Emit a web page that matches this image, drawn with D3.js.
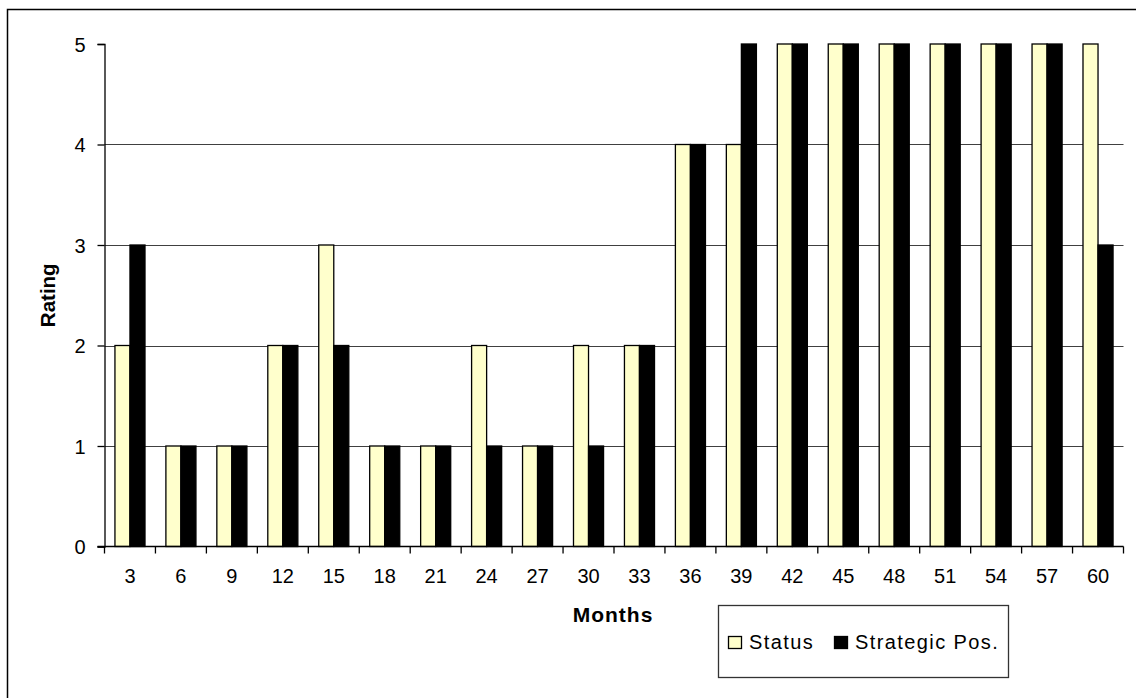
<!DOCTYPE html>
<html>
<head>
<meta charset="utf-8">
<script src="https://cdn.jsdelivr.net/npm/d3@7/dist/d3.min.js"></script>
<style>
  html, body { margin: 0; padding: 0; background: #fff; }
  svg { display: block; font-family: Arial, "Liberation Sans", sans-serif; }
</style>
</head>
<body>
<svg id="chart" width="1136" height="698"></svg>
<script>
// Ratings per month for the two series
const months = ["3","6","9","12","15","18","21","24","27","30","33","36","39","42","45","48","51","54","57","60"];
const statusValues = [2,1,1,2,3,1,1,2,1,2,2,4,4,5,5,5,5,5,5,5];
const strategicValues = [3,1,1,2,2,1,1,1,1,1,2,4,5,5,5,5,5,5,5,3];
const seriesNames = ["Status", "Strategic Pos."];
const seriesColors = ["#FFFFCC", "#000000"];
const yTicks = [0,1,2,3,4,5];

const svg = d3.select("#chart");

// outer chart frame
svg.append("rect")
  .attr("x", 7.5).attr("y", 9.5)
  .attr("width", 1140).attr("height", 700)
  .attr("fill", "#fff").attr("stroke", "#000").attr("stroke-width", 1.5);

const plot = { left: 104.5, right: 1123.5, top: 44, bottom: 546.5 };

const x = d3.scaleBand()
  .domain(months)
  .range([plot.left, plot.right])
  .paddingInner(0.41)
  .paddingOuter(0.205);

const xs = d3.scaleBand()
  .domain(seriesNames)
  .range([0, x.bandwidth()]);

const y = d3.scaleLinear()
  .domain([0, 5])
  .range([plot.bottom, plot.top]);

// horizontal gridlines
svg.append("g")
  .selectAll("line")
  .data(yTicks.filter(v => v > 0 && v < 5))
  .join("line")
  .attr("x1", plot.left).attr("x2", plot.right)
  .attr("y1", d => Math.round(y(d)) + 0.5).attr("y2", d => Math.round(y(d)) + 0.5)
  .attr("stroke", "#404040").attr("stroke-width", 1);

// bars
const rows = months.map((m, i) => ({ month: m, values: [statusValues[i], strategicValues[i]] }));
const groups = svg.append("g")
  .selectAll("g")
  .data(rows)
  .join("g")
  .attr("transform", d => `translate(${x(d.month)},0)`);

groups.selectAll("rect")
  .data(d => d.values.map((v, k) => ({ name: seriesNames[k], value: v, color: seriesColors[k] })))
  .join("rect")
  .attr("x", d => xs(d.name))
  .attr("y", d => y(d.value))
  .attr("width", xs.bandwidth())
  .attr("height", d => y(0) - y(d.value))
  .attr("fill", d => d.color)
  .attr("stroke", "#000")
  .attr("stroke-width", 1.3);

// y axis
const yAxis = d3.axisLeft(y)
  .tickValues(yTicks)
  .tickFormat(d3.format("d"))
  .tickSize(7)
  .tickPadding(12);
const gy = svg.append("g")
  .attr("transform", `translate(${plot.left},0)`)
  .call(yAxis);
gy.select(".domain").attr("stroke", "#000").attr("stroke-width", 1.3);
gy.selectAll(".tick line").attr("stroke", "#000").attr("stroke-width", 1.3);
gy.selectAll(".tick text")
  .attr("font-size", 20).attr("font-family", "Arial, 'Liberation Sans', sans-serif")
  .attr("fill", "#000").attr("dy", "0.35em");

// x axis: labels centred under each month, ticks on the category boundaries
const xAxis = d3.axisBottom(x).tickSize(0).tickPadding(22);
const gx = svg.append("g")
  .attr("transform", `translate(0,${plot.bottom})`)
  .call(xAxis);
gx.select(".domain").remove();
gx.selectAll(".tick text")
  .attr("font-size", 20).attr("font-family", "Arial, 'Liberation Sans', sans-serif")
  .attr("fill", "#000");

const half = (x.step() - x.bandwidth()) / 2;
const boundaries = months.map(m => x(m) - half).concat([x(months[months.length - 1]) + x.bandwidth() + half]);
svg.append("line")
  .attr("x1", plot.left - 7).attr("x2", plot.right)
  .attr("y1", plot.bottom).attr("y2", plot.bottom)
  .attr("stroke", "#000").attr("stroke-width", 1.3);
svg.append("g")
  .selectAll("line")
  .data(boundaries)
  .join("line")
  .attr("x1", d => d).attr("x2", d => d)
  .attr("y1", plot.bottom).attr("y2", plot.bottom + 7)
  .attr("stroke", "#000").attr("stroke-width", 1.3);

// axis titles
svg.append("text")
  .attr("x", 613).attr("y", 622)
  .attr("text-anchor", "middle")
  .attr("font-size", 21).attr("font-weight", "bold")
  .attr("letter-spacing", 1)
  .text("Months");

svg.append("text")
  .attr("transform", `translate(55,${(plot.top + plot.bottom) / 2}) rotate(-90)`)
  .attr("text-anchor", "middle")
  .attr("font-size", 20.5).attr("font-weight", "bold")
  .text("Rating");

// legend
const legend = svg.append("g");
legend.append("rect")
  .attr("x", 718.5).attr("y", 605.5)
  .attr("width", 290).attr("height", 72)
  .attr("fill", "#fff").attr("stroke", "#333").attr("stroke-width", 1.3);

const legendX = [728, 834];
const legendItems = legend.selectAll("g.item")
  .data(seriesNames.map((n, k) => ({ name: n, color: seriesColors[k], x: legendX[k] })))
  .join("g")
  .attr("class", "item")
  .attr("transform", d => `translate(${d.x},0)`);
legendItems.append("rect")
  .attr("x", 0.5).attr("y", 636.5)
  .attr("width", 13).attr("height", 12)
  .attr("fill", d => d.color).attr("stroke", "#000").attr("stroke-width", 1.3);
legendItems.append("text")
  .attr("x", 21).attr("y", 649)
  .attr("font-size", 20).attr("letter-spacing", 1.4)
  .text(d => d.name);
</script>
</body>
</html>
